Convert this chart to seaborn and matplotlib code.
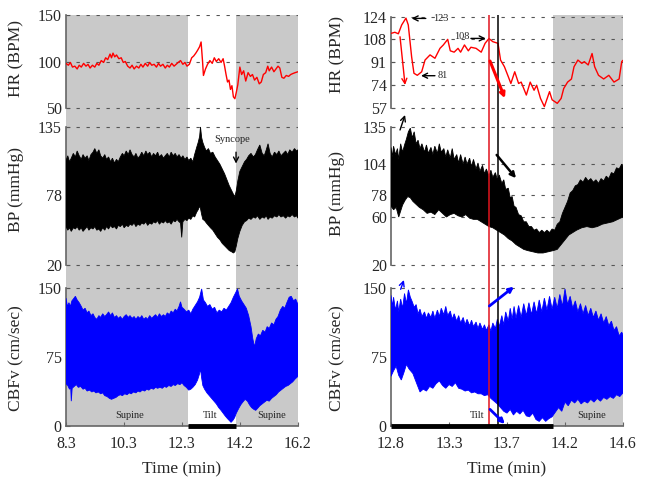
import numpy as np
import matplotlib
matplotlib.use("Agg")
import matplotlib.pyplot as plt
import seaborn as sns

# ---------------- data, (time in min, value) ----------------
# left column: 8.3 - 16.2 min
hr_left = [(8.30, 98), (8.38, 96), (8.45, 99), (8.52, 94), (8.60, 95), (8.68, 92), (8.75, 96),
           (8.82, 94), (8.90, 98), (8.98, 95), (9.05, 97), (9.12, 93), (9.20, 96), (9.28, 94),
           (9.35, 98), (9.42, 96), (9.50, 101), (9.58, 99), (9.65, 104), (9.72, 102), (9.80, 108),
           (9.85, 104), (9.90, 109), (9.96, 105), (10.02, 107), (10.10, 103), (10.18, 104),
           (10.25, 99), (10.32, 100), (10.40, 95), (10.48, 93), (10.55, 96), (10.62, 92),
           (10.70, 95), (10.78, 93), (10.85, 97), (10.92, 94), (11.00, 98), (11.08, 95),
           (11.15, 99), (11.22, 96), (11.30, 97), (11.38, 94), (11.45, 98), (11.52, 95),
           (11.60, 97), (11.68, 93), (11.75, 96), (11.82, 94), (11.90, 98), (11.98, 95),
           (12.05, 97), (12.12, 99), (12.20, 101), (12.28, 97), (12.35, 99), (12.42, 95),
           (12.50, 97), (12.58, 104), (12.65, 106), (12.72, 109), (12.78, 112), (12.85, 116),
           (12.90, 121), (12.95, 100), (12.98, 85), (13.05, 92), (13.12, 97), (13.20, 101),
           (13.28, 98), (13.35, 104), (13.42, 100), (13.50, 103), (13.58, 99), (13.65, 103),
           (13.70, 95), (13.75, 86), (13.80, 78), (13.85, 80), (13.90, 70), (13.95, 74),
           (14.00, 62), (14.05, 60), (14.10, 67), (14.15, 75), (14.22, 94), (14.28, 86),
           (14.35, 90), (14.42, 79), (14.50, 88), (14.58, 84), (14.65, 86), (14.72, 80),
           (14.80, 83), (14.88, 76), (14.95, 78), (15.02, 86), (15.10, 88), (15.17, 95),
           (15.22, 90), (15.30, 94), (15.38, 89), (15.45, 92), (15.52, 95), (15.58, 93),
           (15.65, 83), (15.72, 82), (15.80, 85), (15.88, 84), (15.95, 86), (16.02, 87),
           (16.10, 88), (16.20, 89)]

bp_left_upper = [(8.30, 107), (8.36, 111), (8.42, 106), (8.48, 109), (8.55, 113), (8.62, 110),
                 (8.68, 115), (8.75, 111), (8.82, 108), (8.88, 112), (8.95, 109), (9.02, 111),
                 (9.08, 107), (9.15, 112), (9.22, 114), (9.28, 117), (9.35, 113), (9.42, 116),
                 (9.48, 111), (9.55, 109), (9.62, 112), (9.68, 108), (9.75, 110), (9.82, 106),
                 (9.88, 109), (9.95, 105), (10.02, 108), (10.08, 106), (10.15, 110), (10.22, 113),
                 (10.28, 111), (10.35, 115), (10.42, 112), (10.48, 116), (10.55, 112), (10.62, 110),
                 (10.68, 113), (10.75, 109), (10.82, 111), (10.88, 114), (10.95, 111), (11.02, 115),
                 (11.08, 112), (11.15, 114), (11.22, 110), (11.28, 113), (11.35, 111), (11.42, 114),
                 (11.48, 110), (11.55, 112), (11.62, 109), (11.68, 111), (11.75, 113), (11.82, 110),
                 (11.88, 114), (11.95, 111), (12.02, 113), (12.08, 110), (12.15, 112), (12.22, 109),
                 (12.28, 111), (12.35, 108), (12.42, 110), (12.48, 107), (12.55, 109), (12.62, 106),
                 (12.68, 112), (12.75, 118), (12.80, 122), (12.85, 127), (12.88, 135), (12.92, 126),
                 (12.96, 122), (13.02, 118), (13.08, 115), (13.15, 117), (13.22, 113), (13.30, 114),
                 (13.38, 110), (13.46, 107), (13.54, 104), (13.62, 100), (13.70, 96), (13.78, 91),
                 (13.86, 86), (13.94, 82), (14.00, 79), (14.05, 77), (14.10, 82), (14.15, 90),
                 (14.22, 98), (14.30, 102), (14.38, 106), (14.45, 108), (14.52, 111), (14.60, 113),
                 (14.68, 110), (14.75, 112), (14.82, 116), (14.90, 120), (14.98, 113), (15.05, 111),
                 (15.12, 116), (15.18, 121), (15.25, 113), (15.32, 110), (15.40, 114), (15.48, 112),
                 (15.55, 115), (15.62, 111), (15.70, 113), (15.78, 115), (15.85, 112), (15.92, 116),
                 (16.00, 114), (16.08, 117), (16.15, 115), (16.20, 116)]
bp_left_lower = [(8.30, 52), (8.36, 49), (8.42, 51), (8.48, 48), (8.55, 51), (8.62, 50), (8.68, 52),
                 (8.75, 49), (8.82, 51), (8.88, 48), (8.95, 50), (9.02, 52), (9.08, 49), (9.15, 51),
                 (9.22, 50), (9.28, 52), (9.35, 49), (9.42, 50), (9.48, 48), (9.55, 51), (9.62, 49),
                 (9.68, 52), (9.75, 50), (9.82, 53), (9.88, 51), (9.95, 52), (10.02, 50), (10.08, 53),
                 (10.15, 52), (10.22, 54), (10.28, 51), (10.35, 53), (10.42, 52), (10.48, 54),
                 (10.55, 53), (10.62, 55), (10.68, 52), (10.75, 54), (10.82, 53), (10.88, 55),
                 (10.95, 54), (11.02, 56), (11.08, 53), (11.15, 55), (11.22, 54), (11.28, 56),
                 (11.35, 55), (11.42, 57), (11.48, 54), (11.55, 56), (11.62, 55), (11.68, 57),
                 (11.75, 55), (11.82, 56), (11.88, 54), (11.95, 57), (12.02, 56), (12.08, 58),
                 (12.15, 56), (12.20, 55), (12.24, 43), (12.28, 56), (12.35, 58), (12.42, 57),
                 (12.48, 59), (12.55, 58), (12.62, 61), (12.68, 60), (12.75, 64), (12.80, 66),
                 (12.85, 69), (12.88, 67), (12.92, 62), (12.96, 58), (13.02, 57), (13.08, 55),
                 (13.15, 53), (13.22, 51), (13.30, 49), (13.38, 46), (13.46, 43), (13.54, 41),
                 (13.62, 38), (13.70, 36), (13.78, 34), (13.86, 32), (13.94, 31), (14.00, 30),
                 (14.05, 31), (14.10, 36), (14.15, 42), (14.22, 48), (14.30, 53), (14.38, 56),
                 (14.45, 57), (14.52, 59), (14.60, 58), (14.68, 60), (14.75, 59), (14.82, 61),
                 (14.90, 58), (14.98, 60), (15.05, 59), (15.12, 61), (15.18, 58), (15.25, 60),
                 (15.32, 59), (15.40, 61), (15.48, 60), (15.55, 62), (15.62, 60), (15.70, 61),
                 (15.78, 59), (15.85, 61), (15.92, 60), (16.00, 62), (16.08, 60), (16.15, 61),
                 (16.20, 59)]

cbf_left_upper = [(8.30, 139), (8.35, 130), (8.40, 134), (8.45, 130), (8.50, 136), (8.55, 138),
                  (8.62, 141), (8.68, 137), (8.75, 134), (8.82, 130), (8.88, 126), (8.95, 128),
                  (9.02, 123), (9.08, 125), (9.15, 120), (9.22, 122), (9.28, 118), (9.35, 116),
                  (9.42, 120), (9.48, 118), (9.55, 122), (9.62, 119), (9.68, 121), (9.75, 124),
                  (9.82, 120), (9.88, 123), (9.95, 118), (10.02, 120), (10.08, 117), (10.15, 119),
                  (10.22, 116), (10.28, 119), (10.35, 121), (10.42, 118), (10.48, 120), (10.55, 117),
                  (10.62, 119), (10.68, 116), (10.75, 119), (10.82, 117), (10.88, 120), (10.95, 116),
                  (11.02, 118), (11.08, 116), (11.15, 120), (11.22, 117), (11.28, 119), (11.35, 121),
                  (11.42, 118), (11.48, 122), (11.55, 119), (11.62, 121), (11.68, 119), (11.75, 123),
                  (11.82, 121), (11.88, 125), (11.95, 123), (12.02, 127), (12.08, 125), (12.15, 130),
                  (12.20, 135), (12.25, 129), (12.32, 127), (12.40, 124), (12.48, 126), (12.55, 122),
                  (12.62, 127), (12.70, 131), (12.78, 135), (12.85, 140), (12.92, 149), (12.98, 137),
                  (13.05, 134), (13.12, 130), (13.20, 132), (13.28, 127), (13.36, 129), (13.44, 123),
                  (13.52, 126), (13.60, 124), (13.68, 128), (13.76, 126), (13.84, 130), (13.92, 134),
                  (14.00, 140), (14.08, 145), (14.14, 149), (14.20, 141), (14.28, 136), (14.36, 132),
                  (14.44, 128), (14.52, 120), (14.60, 108), (14.66, 95), (14.72, 86), (14.78, 95),
                  (14.85, 100), (14.92, 98), (15.00, 104), (15.08, 102), (15.15, 108), (15.22, 106),
                  (15.30, 112), (15.38, 110), (15.45, 116), (15.52, 119), (15.60, 126), (15.68, 130),
                  (15.75, 128), (15.82, 134), (15.90, 140), (15.97, 141), (16.05, 136), (16.12, 138),
                  (16.20, 132)]
cbf_left_lower = [(8.30, 46), (8.36, 44), (8.42, 40), (8.46, 42), (8.48, 27), (8.51, 41), (8.58, 43),
                  (8.65, 45), (8.72, 42), (8.80, 43), (8.88, 40), (8.95, 41), (9.02, 38), (9.10, 39),
                  (9.18, 37), (9.25, 38), (9.32, 36), (9.40, 37), (9.48, 35), (9.55, 36), (9.62, 33),
                  (9.70, 32), (9.78, 30), (9.85, 29), (9.92, 30), (10.00, 31), (10.08, 33), (10.15, 34),
                  (10.22, 33), (10.30, 35), (10.38, 34), (10.45, 36), (10.52, 35), (10.60, 37),
                  (10.68, 36), (10.75, 38), (10.82, 37), (10.90, 39), (10.98, 38), (11.05, 40),
                  (11.12, 39), (11.20, 41), (11.28, 40), (11.35, 42), (11.42, 41), (11.50, 42),
                  (11.58, 41), (11.65, 43), (11.72, 42), (11.80, 44), (11.88, 43), (11.95, 45),
                  (12.02, 44), (12.10, 46), (12.18, 45), (12.25, 47), (12.32, 44), (12.40, 42),
                  (12.48, 39), (12.55, 40), (12.62, 42), (12.70, 45), (12.78, 50), (12.84, 56),
                  (12.88, 62), (12.92, 52), (12.96, 44), (13.02, 40), (13.10, 36), (13.18, 33),
                  (13.26, 30), (13.34, 27), (13.42, 24), (13.50, 20), (13.58, 17), (13.65, 14),
                  (13.72, 11), (13.80, 8), (13.86, 6), (13.92, 4), (13.98, 6), (14.04, 9),
                  (14.10, 14), (14.18, 19), (14.25, 23), (14.32, 26), (14.40, 29), (14.48, 27),
                  (14.55, 23), (14.62, 20), (14.70, 18), (14.76, 17), (14.82, 19), (14.90, 22),
                  (14.98, 24), (15.06, 26), (15.14, 28), (15.22, 27), (15.30, 30), (15.38, 32),
                  (15.46, 34), (15.54, 37), (15.62, 39), (15.70, 41), (15.78, 43), (15.86, 44),
                  (15.94, 46), (16.02, 48), (16.10, 51), (16.20, 54)]

# right column: 12.8 - 14.6 min (zoom)
hr_right = [(12.80, 111.8), (12.83, 112.6), (12.857, 111.5), (12.883, 118), (12.916, 123),
            (12.934, 118), (12.96, 94.6), (12.978, 82.5), (13.004, 81), (13.038, 83.6),
            (13.064, 92.2), (13.103, 96), (13.141, 93.5), (13.18, 100.8), (13.206, 103.3),
            (13.24, 107.4), (13.26, 99), (13.29, 98), (13.32, 100.8), (13.34, 98), (13.37, 103.3),
            (13.40, 99), (13.42, 101.6), (13.46, 100.8), (13.50, 98), (13.53, 104.5), (13.56, 108),
            (13.59, 105.7), (13.63, 104.5), (13.65, 92.2), (13.68, 87.3), (13.71, 80), (13.73, 75),
            (13.76, 83.6), (13.79, 75), (13.81, 76), (13.85, 66.5), (13.88, 76), (13.91, 70),
            (13.93, 73.7), (13.96, 64), (13.99, 58), (14.03, 69), (14.05, 63), (14.09, 60.4),
            (14.12, 64), (14.14, 71.3), (14.17, 76), (14.20, 78.3), (14.22, 87.3), (14.25, 92.2),
            (14.28, 89.8), (14.30, 91), (14.33, 88.6), (14.36, 97), (14.38, 87.3), (14.41, 81),
            (14.45, 78.3), (14.49, 81), (14.53, 76), (14.57, 78.3), (14.59, 91), (14.60, 92)]

bp_right_upper = [(12.80, 118), (12.81, 110), (12.82, 119), (12.835, 112), (12.85, 117), (12.86, 108),
                  (12.875, 121), (12.89, 114), (12.905, 120), (12.92, 125), (12.935, 131), (12.95, 134),
                  (12.965, 126), (12.98, 131), (12.995, 121), (13.01, 124), (13.025, 117), (13.04, 121),
                  (13.06, 114), (13.075, 120), (13.09, 113), (13.11, 118), (13.125, 112), (13.14, 119),
                  (13.16, 113), (13.175, 121), (13.19, 114), (13.21, 117), (13.225, 110), (13.24, 116),
                  (13.26, 109), (13.275, 117), (13.29, 108), (13.31, 112), (13.325, 105), (13.34, 112),
                  (13.36, 104), (13.375, 110), (13.39, 104), (13.41, 109), (13.425, 102), (13.44, 108),
                  (13.46, 100), (13.475, 105), (13.49, 98), (13.51, 103), (13.525, 96), (13.54, 100),
                  (13.56, 94), (13.575, 99), (13.59, 93), (13.61, 97), (13.625, 91), (13.64, 95),
                  (13.66, 88), (13.675, 91), (13.69, 83), (13.71, 84), (13.725, 76), (13.74, 77),
                  (13.755, 69), (13.77, 68), (13.79, 62), (13.81, 61), (13.83, 56), (13.85, 56),
                  (13.87, 52), (13.89, 52), (13.91, 49), (13.93, 50), (13.95, 47), (13.97, 49),
                  (13.99, 47), (14.01, 49), (14.03, 47), (14.05, 50), (14.07, 49), (14.09, 54),
                  (14.11, 56), (14.13, 63), (14.15, 68), (14.17, 73), (14.19, 80), (14.21, 82),
                  (14.23, 86), (14.25, 87), (14.27, 91), (14.29, 89), (14.31, 93), (14.33, 90),
                  (14.35, 92), (14.37, 89), (14.39, 91), (14.41, 88), (14.43, 92), (14.45, 90),
                  (14.47, 94), (14.49, 92), (14.51, 97), (14.53, 96), (14.55, 101), (14.57, 100),
                  (14.59, 104), (14.60, 102)]
bp_right_lower = [(12.80, 69), (12.82, 66), (12.84, 68), (12.86, 60), (12.875, 65), (12.89, 70),
                  (12.91, 74), (12.93, 77), (12.95, 76), (12.97, 73), (12.99, 71), (13.02, 68),
                  (13.05, 66), (13.08, 63), (13.11, 64), (13.14, 62), (13.17, 66), (13.20, 63),
                  (13.23, 60), (13.26, 62), (13.29, 63), (13.32, 61), (13.35, 60), (13.38, 62),
                  (13.41, 59), (13.44, 58), (13.47, 58), (13.50, 56), (13.53, 54), (13.56, 52),
                  (13.59, 51), (13.62, 49), (13.65, 47), (13.68, 45), (13.71, 42), (13.74, 40),
                  (13.77, 37), (13.80, 35), (13.83, 33), (13.86, 32), (13.90, 31), (13.94, 30),
                  (13.98, 30), (14.02, 31), (14.06, 32), (14.09, 33), (14.12, 37), (14.15, 41),
                  (14.18, 45), (14.21, 47), (14.24, 49), (14.28, 51), (14.32, 52), (14.36, 51),
                  (14.40, 52), (14.44, 54), (14.48, 55), (14.52, 56), (14.56, 58), (14.60, 60)]

cbf_right_upper = [(12.80, 142), (12.81, 130), (12.82, 140), (12.835, 126), (12.85, 136), (12.86, 124),
                   (12.875, 138), (12.89, 128), (12.905, 144), (12.92, 133), (12.935, 148), (12.95, 140),
                   (12.965, 135), (12.98, 129), (12.995, 132), (13.01, 122), (13.025, 127), (13.04, 119),
                   (13.06, 124), (13.075, 117), (13.09, 123), (13.11, 118), (13.125, 125), (13.14, 117),
                   (13.16, 126), (13.175, 119), (13.19, 128), (13.21, 121), (13.225, 130), (13.24, 120),
                   (13.26, 125), (13.275, 116), (13.29, 122), (13.31, 114), (13.325, 120), (13.34, 112),
                   (13.36, 118), (13.375, 110), (13.39, 116), (13.41, 109), (13.425, 115), (13.44, 108),
                   (13.46, 113), (13.475, 106), (13.49, 112), (13.51, 105), (13.525, 110), (13.54, 104),
                   (13.56, 110), (13.575, 103), (13.59, 112), (13.61, 106), (13.625, 116), (13.64, 108),
                   (13.66, 120), (13.675, 110), (13.69, 124), (13.71, 114), (13.725, 128), (13.74, 116),
                   (13.755, 130), (13.77, 117), (13.79, 131), (13.81, 118), (13.83, 133), (13.85, 120),
                   (13.87, 134), (13.89, 121), (13.91, 135), (13.93, 122), (13.95, 137), (13.97, 124),
                   (13.99, 139), (14.01, 126), (14.03, 141), (14.05, 127), (14.07, 140), (14.09, 128),
                   (14.11, 143), (14.13, 130), (14.15, 149), (14.17, 132), (14.19, 141), (14.21, 128),
                   (14.23, 136), (14.25, 124), (14.27, 133), (14.29, 122), (14.31, 131), (14.33, 120),
                   (14.35, 128), (14.37, 118), (14.39, 125), (14.41, 115), (14.43, 122), (14.45, 112),
                   (14.47, 119), (14.49, 109), (14.51, 114), (14.53, 104), (14.55, 108), (14.57, 98),
                   (14.59, 102), (14.60, 99)]
cbf_right_lower = [(12.80, 54), (12.82, 60), (12.84, 65), (12.86, 55), (12.88, 50), (12.90, 58),
                   (12.92, 67), (12.94, 62), (12.97, 57), (13.00, 46), (13.025, 37), (13.05, 40),
                   (13.075, 38), (13.10, 43), (13.125, 41), (13.15, 46), (13.175, 49), (13.20, 44),
                   (13.225, 41), (13.25, 45), (13.275, 43), (13.30, 47), (13.325, 41), (13.35, 40),
                   (13.375, 38), (13.40, 39), (13.425, 36), (13.45, 37), (13.475, 35), (13.50, 35),
                   (13.525, 33), (13.55, 34), (13.575, 30), (13.60, 27), (13.625, 24), (13.65, 20),
                   (13.675, 16), (13.70, 14), (13.725, 18), (13.75, 12), (13.775, 16), (13.80, 13),
                   (13.825, 17), (13.85, 11), (13.875, 10), (13.90, 14), (13.925, 7), (13.95, 5),
                   (13.975, 9), (14.00, 5), (14.025, 8), (14.05, 10), (14.075, 15), (14.10, 20),
                   (14.125, 16), (14.15, 26), (14.175, 22), (14.20, 28), (14.225, 25), (14.25, 29),
                   (14.275, 24), (14.30, 27), (14.325, 25), (14.35, 29), (14.375, 26), (14.40, 30),
                   (14.425, 27), (14.45, 31), (14.475, 29), (14.50, 32), (14.525, 30), (14.55, 34),
                   (14.575, 32), (14.60, 36)]

# ticks and phases
left_xticks = [8.3, 10.275, 12.25, 14.225, 16.2]
left_xlabels = ["8.3", "10.3", "12.3", "14.2", "16.2"]
right_xticks = [12.8, 13.25, 13.7, 14.15, 14.6]
right_xlabels = ["12.8", "13.3", "13.7", "14.2", "14.6"]
left_supine = [(8.3, 12.45), (14.09, 16.2)]
left_tilt = (12.45, 14.09)
right_supine = [(14.06, 14.6)]
right_tilt = (12.8, 14.06)
red_marker_t = 13.563
black_marker_t = 13.628

# ---------------- style ----------------
sns.set_style("white")
plt.rcParams["font.family"] = ["Liberation Serif", "DejaVu Serif"]

W, H = 645, 486
fig = plt.figure(figsize=(W / 100, H / 100), dpi=100)
GRAY = "#c9c9c9"
SPINE = "#666666"
rows = [(15, 117.5), (117.5, 276.5), (276.5, 426)]


def unz(pairs):
    a = np.array(pairs, dtype=float)
    return a[:, 0], a[:, 1]


def make_ax(x0, row):
    top, bottom = row
    return fig.add_axes([x0 / W, 1 - bottom / H, 232 / W, (bottom - top) / H])


def style(ax, xlim, ylim, yticks, ylabel, label_y, label_x, spans, bottom=False,
          xticks=None, xlabels=None):
    ax.set_xlim(*xlim)
    ax.set_ylim(*ylim)
    ax.set_facecolor("none")
    for a, b in spans:
        ax.axvspan(a, b, color=GRAY, lw=0, zorder=0)
    for v in yticks:
        ax.axhline(v, color="#555555", lw=0.8, ls=(0, (3, 6)), zorder=1)
    for s in ["top", "right", "bottom"]:
        ax.spines[s].set_visible(False)
    ax.spines["left"].set_color(SPINE)
    ax.spines["left"].set_linewidth(1.2)
    ax.spines["left"].set_bounds(min(yticks), max(yticks))
    ax.set_yticks(yticks)
    ax.set_yticklabels([str(v) for v in yticks], fontsize=11.5)
    ax.tick_params(axis="y", direction="in", length=3, color=SPINE, pad=3, left=True)
    ax.set_ylabel(ylabel, fontsize=12.5)
    ax.yaxis.set_label_coords(label_x, label_y)
    if bottom:
        ax.spines["bottom"].set_visible(True)
        ax.spines["bottom"].set_color(SPINE)
        ax.spines["bottom"].set_linewidth(1.2)
        ax.set_xticks(xticks)
        ax.set_xticklabels(xlabels, fontsize=11.5)
        ax.tick_params(axis="x", direction="in", length=3, color=SPINE, pad=7, bottom=True)
        ax.set_xlabel("Time (min)", fontsize=12.5, labelpad=7)
    else:
        ax.set_xticks([])
        ax.set_xlabel("")


def envelope(ax, upper, lower, color):
    tu, vu = unz(upper)
    tl, vl = unz(lower)
    ax.fill(np.r_[tu, tl[::-1]], np.r_[vu, vl[::-1]], color=color, lw=0.6, zorder=3)


def trace(ax, pairs, color):
    t, v = unz(pairs)
    sns.lineplot(x=t, y=v, ax=ax, color=color, lw=1.0, zorder=3)


def arrow(ax, tail, tip, color="black", lw=1.0, ms=9):
    ax.annotate("", xy=tip, xytext=tail, annotation_clip=False,
                arrowprops=dict(arrowstyle="->", color=color, lw=lw, mutation_scale=ms,
                                shrinkA=0, shrinkB=0), zorder=6)


small = dict(fontsize=7.5, zorder=6)

# ---------------- left column ----------------
lx = 66
ax_hr = make_ax(lx, rows[0])
ax_bp = make_ax(lx, rows[1])
ax_cb = make_ax(lx, rows[2])
xl = (8.3, 16.2)
lab_l = -0.18

trace(ax_hr, hr_left, "red")
style(ax_hr, xl, (39.8, 150), [50, 100, 150], "HR (BPM)", 0.58, lab_l, left_supine)

envelope(ax_bp, bp_left_upper, bp_left_lower, "black")
style(ax_bp, xl, (10.4, 142.9), [20, 78, 135], "BP (mmHg)", 0.545, lab_l, left_supine)
ax_bp.text(13.94, 124.5, "Syncope", ha="center", va="center", **small)
arrow(ax_bp, (14.09, 114), (14.09, 104.5), lw=1.0)

envelope(ax_cb, cbf_left_upper, cbf_left_lower, "blue")
style(ax_cb, xl, (0, 162.5), [0, 75, 150], "CBFv (cm/sec)", 0.455, lab_l, left_supine,
      bottom=True, xticks=left_xticks, xlabels=left_xlabels)
ax_cb.plot(left_tilt, [0, 0], color="black", lw=3.5, solid_capstyle="butt",
           clip_on=False, zorder=5)
ax_cb.text(10.45, 11, "Supine", ha="center", va="center", **small)
ax_cb.text(13.2, 11, "Tilt", ha="center", va="center", **small)
ax_cb.text(15.3, 11, "Supine", ha="center", va="center", **small)

# ---------------- right column ----------------
rx = 391
bx_hr = make_ax(rx, rows[0])
bx_bp = make_ax(rx, rows[1])
bx_cb = make_ax(rx, rows[2])
xr = (12.8, 14.6)
lab_r = -0.198

trace(bx_hr, hr_right, "red")
style(bx_hr, xr, (50, 125.3), [57, 74, 91, 108, 124], "HR (BPM)", 0.61, lab_r, right_supine)

envelope(bx_bp, bp_right_upper, bp_right_lower, "black")
style(bx_bp, xr, (10.4, 142.9), [20, 60, 78, 104, 135], "BP (mmHg)", 0.525, lab_r,
      right_supine)

envelope(bx_cb, cbf_right_upper, cbf_right_lower, "blue")
style(bx_cb, xr, (0, 162.5), [0, 75, 150], "CBFv (cm/sec)", 0.455, lab_r, right_supine,
      bottom=True, xticks=right_xticks, xlabels=right_xlabels)
bx_cb.plot(right_tilt, [0, 0], color="black", lw=3.5, solid_capstyle="butt",
           clip_on=False, zorder=5)
bx_cb.text(13.47, 11, "Tilt", ha="center", va="center", **small)
bx_cb.text(14.36, 11, "Supine", ha="center", va="center", **small)

for ax in (bx_hr, bx_bp, bx_cb):
    ax.axvline(red_marker_t, color="#e0141e", lw=1.1, zorder=4)
    ax.axvline(black_marker_t, color="black", lw=1.1, zorder=4)

# HR annotations
arrow(bx_hr, (13.07, 122.8), (12.96, 122.8))
bx_hr.text(13.125, 122.8, "123", ha="left", va="center", **small)
arrow(bx_hr, (13.141, 80.7), (13.033, 80.7))
bx_hr.text(13.165, 80.7, "81", ha="left", va="center", **small)
arrow(bx_hr, (13.42, 108.1), (13.535, 108.1))
bx_hr.text(13.41, 109.5, "108", ha="right", va="center", **small)
arrow(bx_hr, (12.87, 109.3), (12.909, 73.9), color="red", lw=1.0)
arrow(bx_hr, (13.568, 91.5), (13.684, 64.1), color="red", lw=2.2, ms=7)
# BP annotations
arrow(bx_bp, (12.87, 132.5), (12.909, 145))
arrow(bx_bp, (13.62, 111.7), (13.77, 92.3), lw=1.8, ms=8)
# CBFv annotations
arrow(bx_cb, (12.875, 148.6), (12.9, 158.7), color="blue", lw=1.0)
arrow(bx_cb, (13.563, 130.4), (13.754, 151.4), color="blue", lw=2.0, ms=7)
arrow(bx_cb, (13.568, 18.1), (13.684, 2.2), color="blue", lw=2.0, ms=7)

fig.savefig("out.png", dpi=100)
